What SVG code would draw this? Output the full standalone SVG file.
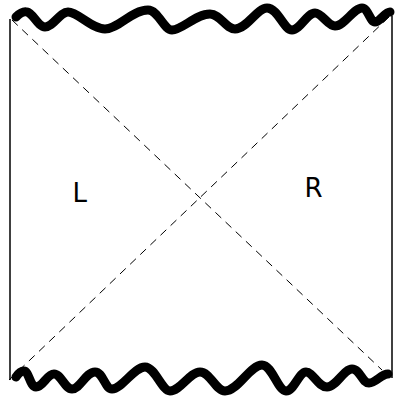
<svg xmlns="http://www.w3.org/2000/svg" width="401" height="399" viewBox="0 0 401 399">
<style>
.edge{stroke:#000;stroke-width:1.5;fill:none}
.dash{stroke:#000;stroke-width:1;fill:none;stroke-dasharray:8 6}
.sing{stroke:#000;stroke-width:9;fill:none;stroke-linejoin:round;stroke-linecap:round}
.lbl{font-family:"DejaVu Sans",sans-serif;font-size:26px;fill:#000}
</style>
<rect width="401" height="399" fill="#fff"/>
<g id="connectors">
<line class="dash" x1="12" y1="20" x2="382" y2="370"/>
<line class="dash" x1="389" y1="17" x2="9" y2="380"/>
</g>
<g id="left-boundary"><line class="edge" x1="10" y1="19" x2="10" y2="380"/></g>
<g id="right-boundary"><line class="edge" x1="392" y1="16" x2="392" y2="378"/></g>
<g id="top-singularity">
<path class="sing" d="M16,17 C19,14 23,11 27,12 C33,13 38,27 45,27 C53,27 60,12 68,12 C78,12 92,29 105,29 C118,29 132,10 148,10 C158,10 164,30 172,30 C182,30 196,14 210,14 C220,14 226,29 235,29 C247,29 257,8 267,8 C278,8 284,30 292,30 C300,30 307,13 315,13 C322,13 328,26 335,26 C344,26 354,8 362,8 C368,8 370,22 375,22 C380,22 385,12 390,12"/>
</g>
<g id="bottom-singularity">
<path class="sing" d="M16,377 C18,374 20,371 24,371 C29,371 30,387 36,387 C43,387 47,374 54,374 C61,374 65,389 72,389 C80,389 86,372 95,372 C103,372 105,389 112,389 C122,389 134,367 145,367 C155,367 162,391 170,391 C180,391 190,372 200,372 C210,372 216,391 225,391 C238,391 250,365 262,365 C272,365 278,391 286,391 C294,391 299,372 306,372 C313,372 318,387 327,387 C336,387 344,369 352,369 C360,369 362,383 369,383 C376,383 381,374 388,374"/>
</g>
<g id="label-L"><text class="lbl" x="72.5" y="202">L</text></g>
<g id="label-R"><text class="lbl" x="304.5" y="197">R</text></g>
</svg>
